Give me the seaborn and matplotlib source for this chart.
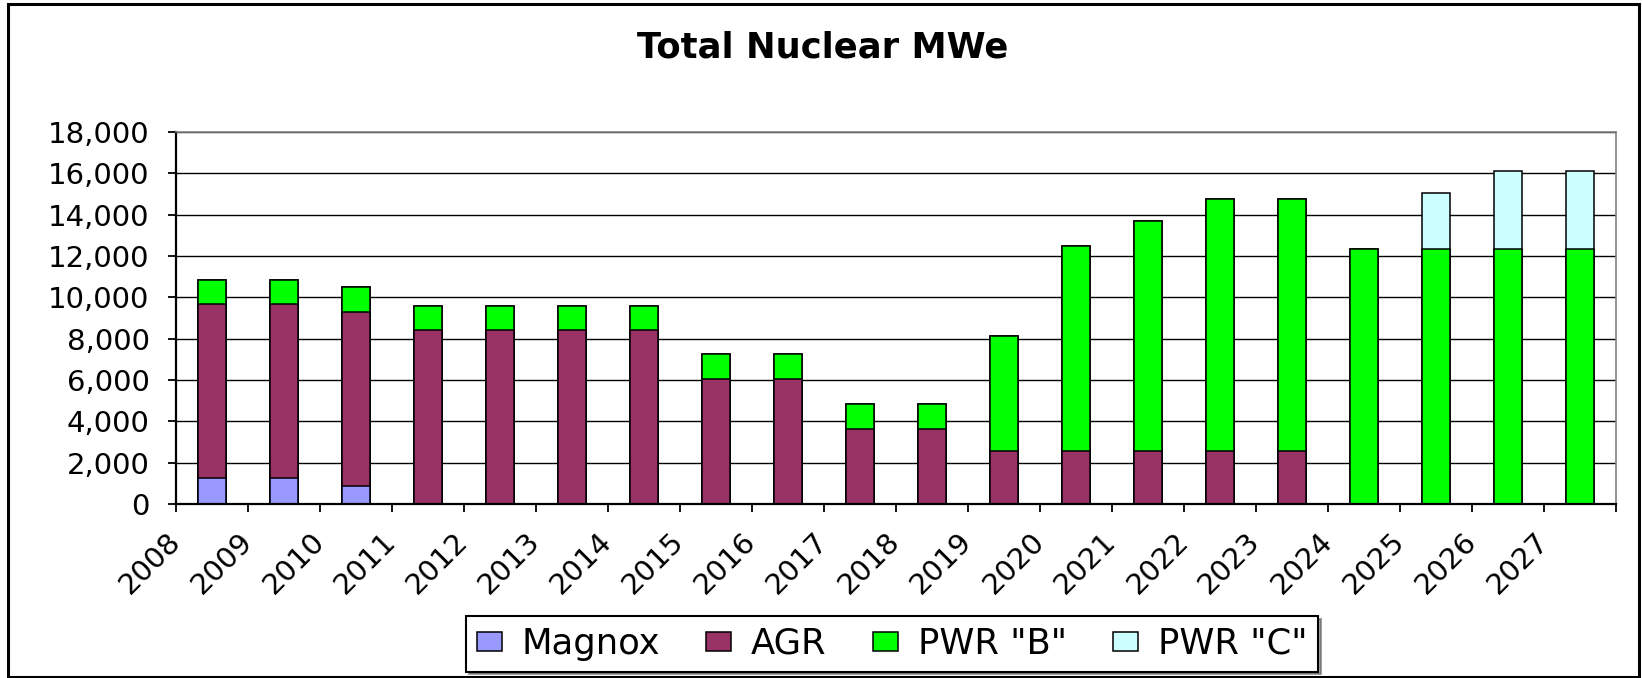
"""Total Nuclear MWe - stacked capacity by reactor type, 2008-2027."""

import pandas as pd
import seaborn as sns
import matplotlib.pyplot as plt
from matplotlib.patches import Patch, Rectangle
from matplotlib.ticker import FuncFormatter
from matplotlib.transforms import ScaledTranslation

# --- Data ----------------------------------------------------------------
years = list(range(2008, 2028))
magnox = [1260, 1260, 890, 0, 0, 0, 0, 0, 0, 0,
          0, 0, 0, 0, 0, 0, 0, 0, 0, 0]
agr = [8400, 8400, 8400, 8400, 8400, 8400, 8400, 6060, 6060, 3630,
       3630, 2560, 2560, 2560, 2560, 2560, 0, 0, 0, 0]
pwr_b = [1188, 1188, 1188, 1188, 1188, 1188, 1188, 1188, 1188, 1188,
         1188, 5550, 9940, 11130, 12200, 12200, 12320, 12320, 12320, 12320]
pwr_c = [0, 0, 0, 0, 0, 0, 0, 0, 0, 0,
         0, 0, 0, 0, 0, 0, 0, 2740, 3790, 3790]

series = ["Magnox", "AGR", 'PWR "B"', 'PWR "C"']
colors = ["#9999FF", "#993366", "#00FF00", "#CCFFFF"]

W, H = 1642, 678

df = pd.DataFrame({"Magnox": magnox, "AGR": agr, 'PWR "B"': pwr_b, 'PWR "C"': pwr_c})
cum = df[series].cumsum(axis=1)
cum["pos"] = [y + 0.5 for y in years]

sns.set_theme(style="white")
plt.rcParams["font.family"] = ["DejaVu Sans"]
plt.rcParams["text.color"] = "black"

fig = plt.figure(figsize=(W / 100, H / 100), dpi=100)
ax = fig.add_axes([176 / W, 1 - 504 / H, (1616 - 176) / W, (504 - 132) / H])

# draw cumulative totals from the top layer down so each layer covers the next
for name, color in reversed(list(zip(series, colors))):
    sns.barplot(data=cum, x="pos", y=name, native_scale=True, color=color,
                saturation=1, width=0.38, edgecolor="black", linewidth=1.1,
                errorbar=None, ax=ax)

ax.set_xlim(2008, 2028)
ax.set_ylim(0, 18000)
ax.set_xlabel("")
ax.set_ylabel("")
ax.set_yticks(range(0, 18001, 2000))
ax.yaxis.set_major_formatter(FuncFormatter(lambda v, p: f"{int(v):,}"))
ax.set_xticks(list(range(2008, 2029)), labels=[str(y) for y in years] + [""],
              rotation=45, ha="right", va="center", rotation_mode="anchor")
shift = ScaledTranslation(16 / 100, 0, fig.dpi_scale_trans)
for lab in ax.get_xticklabels():
    lab.set_transform(lab.get_transform() + shift)

ax.set_axisbelow(True)
ax.yaxis.grid(True, color="black", linewidth=1.0)
ax.xaxis.grid(False)
ax.tick_params(axis="both", direction="out", length=6, width=1.3,
               color="black", labelsize=21, labelcolor="black",
               bottom=True, left=True)
ax.tick_params(axis="y", pad=13)
ax.tick_params(axis="x", pad=18)

for side in ("left", "bottom"):
    ax.spines[side].set_color("black")
    ax.spines[side].set_linewidth(1.6)
for side in ("top", "right"):
    ax.spines[side].set_color("#808080")
    ax.spines[side].set_linewidth(1.2)

fig.text(0.501, 1 - 47 / H, "Total Nuclear MWe", ha="center", va="center",
         fontsize=25.5, fontweight="bold", color="black")

handles = [Patch(facecolor=c, edgecolor="black", linewidth=1.1) for c in colors]
fs = 25.5
fpx = fs * 100 / 72
leg = fig.legend(handles, series, loc="center", bbox_to_anchor=(892 / W, 1 - 644 / H),
                 ncol=4, fontsize=fs, frameon=True, fancybox=False, shadow=True,
                 framealpha=1, handlelength=25 / fpx, handleheight=17 / fpx,
                 handletextpad=20 / fpx, columnspacing=46 / fpx, borderpad=0.3,
                 borderaxespad=0, labelcolor="black")
leg.get_frame().set_edgecolor("black")
leg.get_frame().set_linewidth(1.5)

fig.patches.append(Rectangle((8 / W, 1 - 677 / H), (1639 - 8) / W, (677 - 4) / H,
                             transform=fig.transFigure, fill=False,
                             edgecolor="black", linewidth=2.2))

fig.savefig("out.png", dpi=100)
